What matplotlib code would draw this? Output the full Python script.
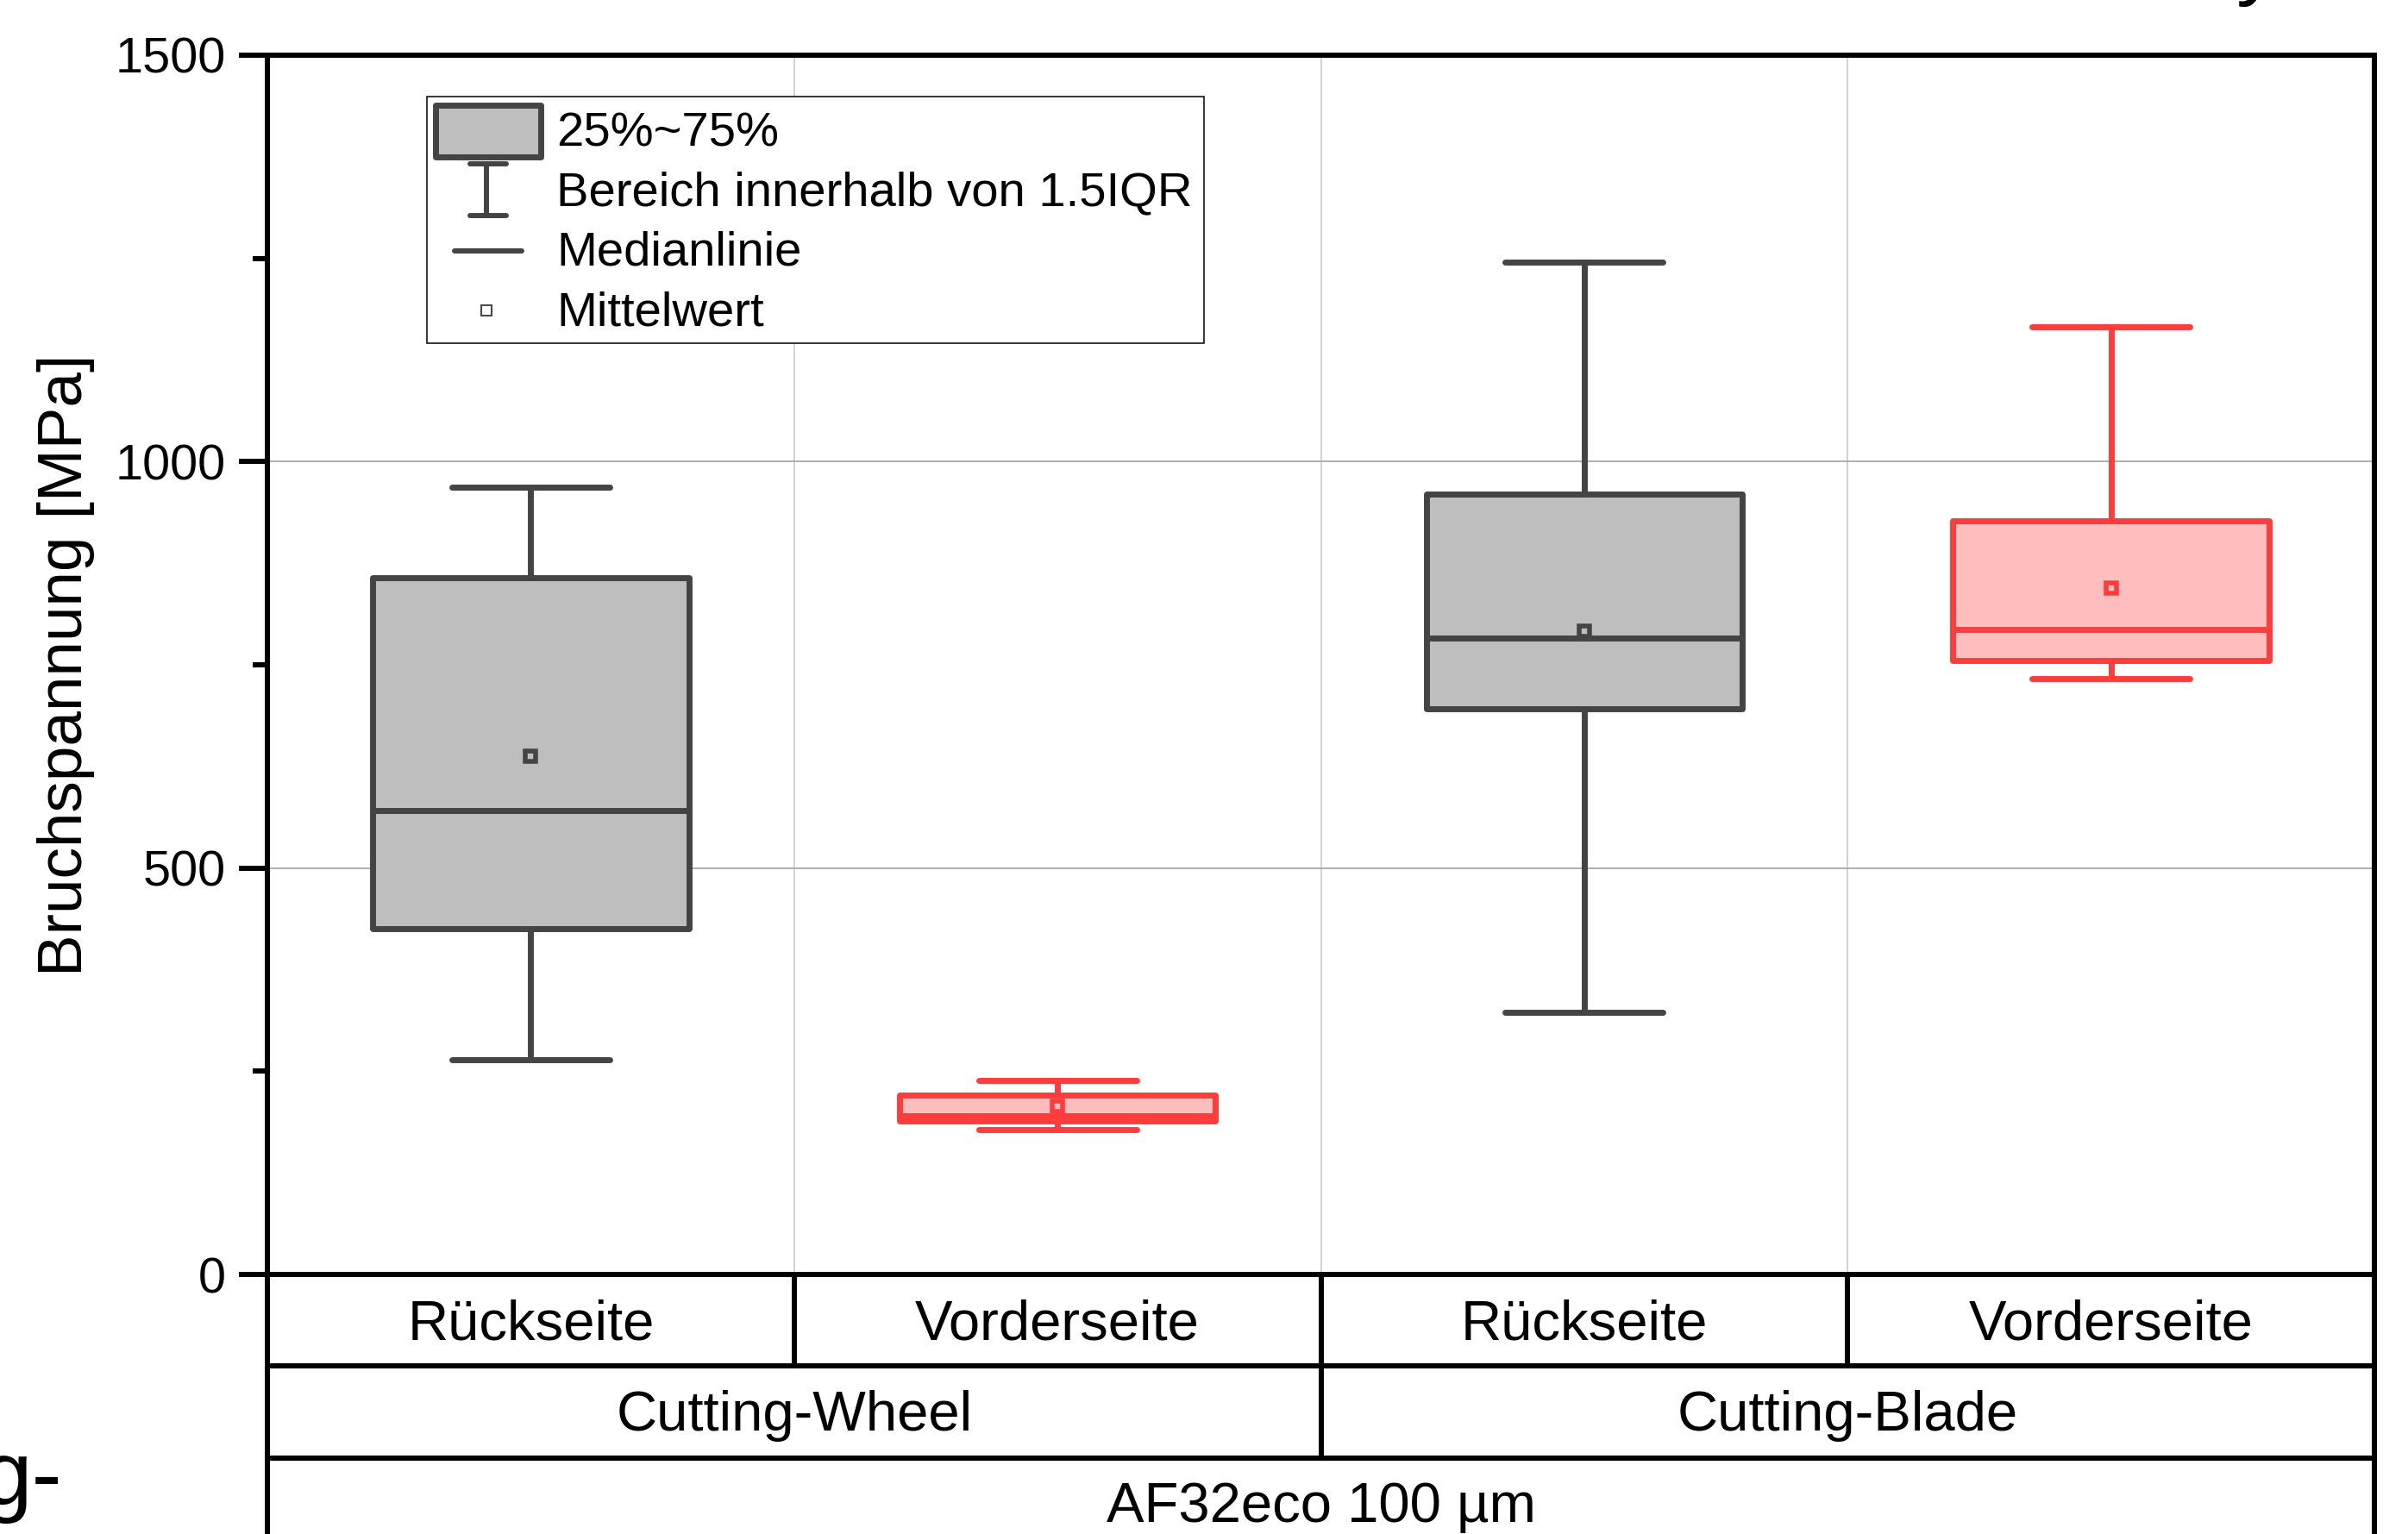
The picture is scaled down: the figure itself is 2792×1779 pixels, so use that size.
import numpy as np
import matplotlib
matplotlib.use("Agg")
import matplotlib.pyplot as plt
from matplotlib.patches import Rectangle
from matplotlib.lines import Line2D

plt.rcParams['font.family'] = ['Liberation Sans', 'DejaVu Sans']

# data (MPa)
categories = ['Rückseite', 'Vorderseite', 'Rückseite', 'Vorderseite']
groups = ['Cutting-Wheel', 'Cutting-Blade']
material = 'AF32eco 100 µm'
whislo = [264, 178, 322, 733]
q1 = [425, 189, 696, 755]
med = [571, 195, 783, 793]
q3 = [857, 221, 960, 927]
whishi = [969, 239, 1245, 1166]
means = [638, 207, 791, 844]
yticks = [0, 500, 1000, 1500]

GRAY_E, GRAY_F = '#444444', '#BEBEBE'
RED_E, RED_F = '#FF3C3C', '#FFBEBE'
W, H = 2792, 1779
LW = 5.0

fig = plt.figure(figsize=(W / 100, H / 100), dpi=100)
ax = fig.add_axes([310 / W, 1 - 1478 / H, 2443 / W, 1414 / H])

stats = [dict(med=med[i], q1=q1[i], q3=q3[i], whislo=whislo[i], whishi=whishi[i],
              mean=means[i], fliers=[]) for i in range(len(categories))]

def draw(idx, ec, fc):
    ax.bxp([stats[i] for i in idx], positions=idx, widths=0.6, capwidths=0.3,
           patch_artist=True, showmeans=True, showfliers=False, manage_ticks=False,
           boxprops=dict(facecolor=fc, edgecolor=ec, linewidth=LW, joinstyle='round'),
           whiskerprops=dict(color=ec, linewidth=LW),
           capprops=dict(color=ec, linewidth=LW, solid_capstyle='round'),
           medianprops=dict(color=ec, linewidth=LW),
           meanprops=dict(marker='s', markerfacecolor='none', markeredgecolor=ec,
                          markersize=8, markeredgewidth=4))

draw([0, 2], GRAY_E, GRAY_F)
draw([1, 3], RED_E, RED_F)

ax.set_xlim(-0.5, 3.5)
ax.set_ylim(0, 1500)
ax.set_yticks(yticks)
ax.set_yticks(np.arange(250, 1500, 500), minor=True)
ax.set_xticks([0.5, 1.5, 2.5])
ax.set_xticklabels([])
ax.tick_params(axis='x', length=0)
ax.tick_params(axis='y', which='major', direction='out', length=24, width=4.3,
               labelsize=41.5, pad=11)
ax.tick_params(axis='y', which='minor', direction='out', length=12, width=4.3)
ax.set_axisbelow(True)
ax.yaxis.grid(True, color='#a8a8a8', linewidth=1.3)
ax.xaxis.grid(True, color='#cfcfcf', linewidth=1.3)
for s in ax.spines.values():
    s.set_linewidth(4.3)

fig.text(77 / W, 1 - 771 / H, 'Bruchspannung [MPa]', rotation=90,
         ha='center', va='center', fontsize=52.5)

# category table under the axis
tr = ax.get_xaxis_transform()
row_y = [-106 / 1414, -212.5 / 1414]
kw = dict(transform=tr, clip_on=False, color='black', linewidth=4.3)
for y in row_y:
    ax.plot([-0.5, 3.5], [y, y], **kw)
for x in [0.5, 1.5, 2.5]:
    ax.plot([x, x], [0, row_y[0]], **kw)
ax.plot([1.5, 1.5], [row_y[0], row_y[1]], **kw)
ax.plot([-0.5, -0.5], [0, -0.3], **kw)
ax.plot([3.5, 3.5], [0, -0.3], **kw)

for i, c in enumerate(categories):
    ax.text(i, -75 / 1414, c, transform=tr, ha='center', va='baseline', fontsize=47)
for j, g in enumerate(groups):
    ax.text(0.5 + 2 * j, -181 / 1414, g, transform=tr, ha='center', va='baseline', fontsize=47)
ax.text(1.5, -287 / 1414, material, transform=tr, ha='center', va='baseline', fontsize=47)

# legend
def af(px, py):
    return ((px - 310) / 2443, (1478 - py) / 1414)

ta = ax.transAxes
x0, y0 = af(495, 398)
x1, y1 = af(1396, 112)
ax.add_patch(Rectangle((x0, y0), x1 - x0, y1 - y0, transform=ta, facecolor='white',
                       edgecolor='black', linewidth=1.1, zorder=10))
bx0, by0 = af(505, 182)
bx1, by1 = af(627, 122)
ax.add_patch(Rectangle((bx0, by0), bx1 - bx0, by1 - by0, transform=ta, facecolor=GRAY_F,
                       edgecolor=GRAY_E, linewidth=LW, joinstyle='round', zorder=11))
lkw = dict(transform=ta, color=GRAY_E, linewidth=4.3, solid_capstyle='round', zorder=11)
for seg in [((564, 190), (564, 250)), ((545, 190), (587, 190)), ((545, 250), (587, 250)),
            ((527, 291), (605, 291))]:
    (ax0, ay0), (ax1, ay1) = af(*seg[0]), af(*seg[1])
    ax.add_line(Line2D([ax0, ax1], [ay0, ay1], **lkw))
mx, my = af(564, 360)
ax.add_line(Line2D([mx], [my], transform=ta, marker='s', markersize=9, markeredgewidth=1.4,
                   markerfacecolor='white', markeredgecolor=GRAY_E, zorder=11))
labels = ['25%~75%', 'Bereich innerhalb von 1.5IQR', 'Medianlinie', 'Mittelwert']
for lab, py in zip(labels, [170, 238, 308, 378]):
    tx, ty = af(645, py)
    ax.text(tx, ty, lab, transform=ta, ha='left', va='baseline', fontsize=40.5, zorder=12)

# pieces of the surrounding slide text that reach into the crop
fig.text(72 / W, 1 - 1745 / H, 'g-', ha='right', va='baseline', fontsize=76)
fig.text(2593 / W, 1 + 13 / H, 'y', ha='left', va='baseline', fontsize=72)

fig.savefig('out.png', dpi=100)
